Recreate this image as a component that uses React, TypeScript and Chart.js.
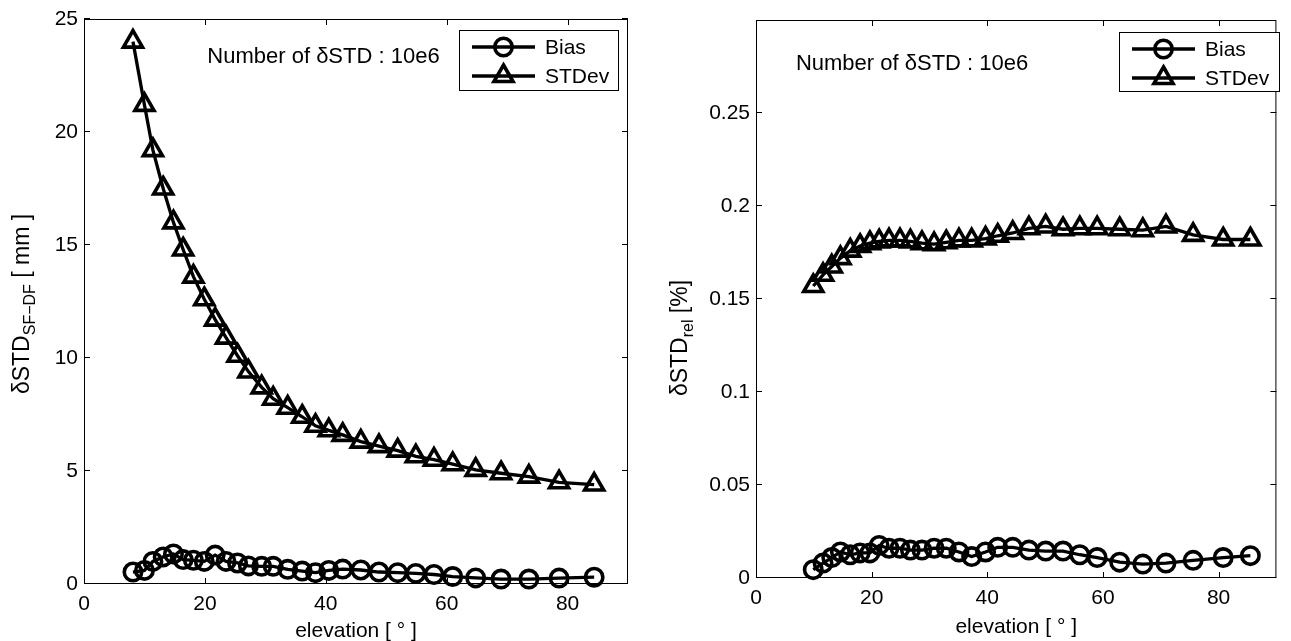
import React, { useEffect, useRef } from 'react';
import { Chart, registerables } from 'chart.js';

Chart.register(...registerables);

const FONT = '"Liberation Sans", Arial, Helvetica, sans-serif';

// ---------- shared axis ----------
const X_TICKS = [0, 20, 40, 60, 80];
const X_MIN = 0;
const X_MAX = 90;
const SERIES_NAMES = ['Bias', 'STDev'];
const NOTE_TEXT = 'Number of δSTD : 10e6';
const X_TITLE = 'elevation [ ° ]';

// ---------- left panel: δSTD_SF-DF [mm] ----------
const LEFT_ELEV = [8.1, 10.0, 11.4, 13.1, 14.8, 16.4, 18.1, 19.9, 21.7, 23.5, 25.4, 27.2, 29.4, 31.3, 33.7, 36.1, 38.3, 40.5, 42.8, 45.8, 48.8, 51.9, 54.9, 57.9, 61.0, 64.8, 69.0, 73.6, 78.6, 84.4];
const LEFT_BIAS = [0.53, 0.6, 1.0, 1.2, 1.33, 1.08, 1.05, 1.0, 1.28, 1.0, 0.93, 0.8, 0.78, 0.78, 0.65, 0.57, 0.5, 0.6, 0.66, 0.62, 0.53, 0.5, 0.47, 0.42, 0.33, 0.27, 0.22, 0.22, 0.26, 0.3];
const LEFT_STDEV = [24.0, 21.2, 19.2, 17.5, 16.0, 14.8, 13.6, 12.6, 11.7, 10.9, 10.1, 9.4, 8.7, 8.2, 7.8, 7.4, 7.0, 6.8, 6.6, 6.3, 6.1, 5.9, 5.65, 5.5, 5.3, 5.05, 4.9, 4.75, 4.5, 4.4];
const LEFT_Y_TICKS = [0, 5, 10, 15, 20, 25];
const LEFT_Y_MAX = 25;

// ---------- right panel: δSTD_rel [%] ----------
const RIGHT_ELEV = [9.9, 11.6, 13.1, 14.6, 16.3, 18.0, 19.7, 21.3, 23.0, 24.9, 26.7, 28.7, 30.8, 32.9, 35.1, 37.3, 39.7, 41.8, 44.4, 47.2, 50.1, 53.1, 56.0, 59.0, 62.9, 66.9, 70.9, 75.6, 80.8, 85.5];
const RIGHT_BIAS = [0.0045, 0.008, 0.011, 0.014, 0.0125, 0.0135, 0.0135, 0.0175, 0.016, 0.016, 0.015, 0.015, 0.016, 0.016, 0.014, 0.0115, 0.014, 0.0165, 0.0165, 0.015, 0.0145, 0.0145, 0.0125, 0.011, 0.0085, 0.0075, 0.008, 0.0095, 0.011, 0.012];
const RIGHT_STDEV = [0.157, 0.163, 0.1675, 0.172, 0.176, 0.1785, 0.18, 0.181, 0.1815, 0.1815, 0.181, 0.18, 0.1795, 0.1805, 0.1815, 0.1815, 0.1825, 0.184, 0.1855, 0.188, 0.189, 0.1875, 0.188, 0.188, 0.1875, 0.187, 0.189, 0.1845, 0.182, 0.182];
const RIGHT_Y_TICKS = [0, 0.05, 0.1, 0.15, 0.2, 0.25];
const RIGHT_Y_MAX = 0.3;

const H = 641;

type Panel = {
  left: number;
  width: number;
  area: { l: number; r: number; t: number; b: number };
  elev: number[];
  bias: number[];
  stdev: number[];
  yTicks: number[];
  yMax: number;
  yTitle: [string, string, string];
  yTitlePos: { x: number; y: number };
  xTitleBase: number;
  note: { x: number; y: number };
  legend: { x: number; y: number; w: number; h: number };
};

const PANELS: Panel[] = [
  {
    left: 0,
    width: 645,
    area: { l: 84, r: 628, t: 19, b: 584 },
    elev: LEFT_ELEV,
    bias: LEFT_BIAS,
    stdev: LEFT_STDEV,
    yTicks: LEFT_Y_TICKS,
    yMax: LEFT_Y_MAX,
    yTitle: ['δSTD', 'SF−DF', ' [ mm ]'],
    yTitlePos: { x: 21, y: 304 },
    xTitleBase: 53,
    note: { x: 20.4, y: 23.05 },
    legend: { x: 459, y: 30, w: 160, h: 61 },
  },
  {
    left: 645,
    width: 646,
    area: { l: 111, r: 645, t: 20, b: 578 },
    elev: RIGHT_ELEV,
    bias: RIGHT_BIAS,
    stdev: RIGHT_STDEV,
    yTicks: RIGHT_Y_TICKS,
    yMax: RIGHT_Y_MAX,
    yTitle: ['δSTD', 'rel', ' [%]'],
    yTitlePos: { x: 34, y: 338 },
    xTitleBase: 55,
    note: { x: 6.9, y: 0.273 },
    legend: { x: 474, y: 32, w: 161, h: 60 },
  },
];

function drawMarker(ctx: CanvasRenderingContext2D, style: string, x: number, y: number, r: number) {
  ctx.beginPath();
  if (style === 'circle') {
    ctx.arc(x, y, r, 0, Math.PI * 2);
  } else {
    let a = 0;
    ctx.moveTo(x + Math.sin(a) * r, y - Math.cos(a) * r);
    a += (2 * Math.PI) / 3;
    ctx.lineTo(x + Math.sin(a) * r, y - Math.cos(a) * r);
    a += (2 * Math.PI) / 3;
    ctx.lineTo(x + Math.sin(a) * r, y - Math.cos(a) * r);
    ctx.closePath();
  }
  ctx.stroke();
}

function framePlugin(p: Panel) {
  return {
    id: 'frame',
    beforeDatasetsDraw(chart: any) {
      const { ctx, chartArea: a, scales } = chart;
      ctx.save();
      ctx.strokeStyle = '#000';
      ctx.lineWidth = 1;
      ctx.strokeRect(a.left + 0.5, a.top + 0.5, a.right - a.left - 1, a.bottom - a.top - 1);
      const TL = 6;
      ctx.beginPath();
      X_TICKS.forEach((v) => {
        const px = Math.round(scales.x.getPixelForValue(v)) + 0.5;
        ctx.moveTo(px, a.bottom);
        ctx.lineTo(px, a.bottom - TL);
        ctx.moveTo(px, a.top);
        ctx.lineTo(px, a.top + TL);
      });
      p.yTicks.forEach((v) => {
        const py = Math.round(scales.y.getPixelForValue(v)) - 0.5;
        ctx.moveTo(a.left, py);
        ctx.lineTo(a.left + TL, py);
        ctx.moveTo(a.right, py);
        ctx.lineTo(a.right - TL, py);
      });
      ctx.stroke();
      ctx.restore();
    },
    afterDraw(chart: any) {
      const { ctx, chartArea: a, scales } = chart;
      ctx.save();
      ctx.fillStyle = '#000';
      // annotation
      ctx.font = `22px ${FONT}`;
      ctx.textAlign = 'left';
      ctx.textBaseline = 'alphabetic';
      ctx.fillText(NOTE_TEXT, scales.x.getPixelForValue(p.note.x), scales.y.getPixelForValue(p.note.y));
      // x title
      ctx.font = `21px ${FONT}`;
      ctx.textAlign = 'center';
      ctx.fillText(X_TITLE, (a.left + a.right) / 2, a.bottom + p.xTitleBase);
      // y title with subscript
      const [main, sub, rest] = p.yTitle;
      const size = 23;
      const subSize = 16;
      ctx.translate(p.yTitlePos.x, p.yTitlePos.y);
      ctx.rotate(-Math.PI / 2);
      ctx.textAlign = 'left';
      ctx.font = `${size}px ${FONT}`;
      const w1 = ctx.measureText(main).width;
      const w3 = ctx.measureText(rest).width;
      ctx.font = `${subSize}px ${FONT}`;
      const w2 = ctx.measureText(sub).width;
      let x = -(w1 + w2 + w3) / 2;
      const base = size * 0.36;
      ctx.font = `${size}px ${FONT}`;
      ctx.fillText(main, x, base);
      x += w1;
      ctx.font = `${subSize}px ${FONT}`;
      ctx.fillText(sub, x, base + 6);
      x += w2;
      ctx.font = `${size}px ${FONT}`;
      ctx.fillText(rest, x, base);
      ctx.restore();

      // legend
      const L = p.legend;
      ctx.save();
      ctx.fillStyle = '#fff';
      ctx.fillRect(L.x, L.y, L.w, L.h);
      ctx.strokeStyle = '#000';
      ctx.lineWidth = 1;
      ctx.strokeRect(L.x + 0.5, L.y + 0.5, L.w - 1, L.h - 1);
      const rows = [L.y + 17, L.y + 46];
      chart.data.datasets.forEach((ds: any, i: number) => {
        const y = rows[i];
        ctx.strokeStyle = '#000';
        ctx.lineWidth = ds.borderWidth;
        ctx.beginPath();
        ctx.moveTo(L.x + 13, y);
        ctx.lineTo(L.x + 76, y);
        ctx.stroke();
        ctx.lineWidth = ds.pointBorderWidth;
        drawMarker(ctx, ds.pointStyle, L.x + 44.5, y, ds.pointRadius);
        ctx.fillStyle = '#000';
        ctx.font = `21px ${FONT}`;
        ctx.textAlign = 'left';
        ctx.textBaseline = 'middle';
        ctx.fillText(ds.label, L.x + 86, y + 1);
      });
      ctx.restore();
    },
  };
}

function makeChart(canvas: HTMLCanvasElement, p: Panel) {
  const toXY = (xs: number[], ys: number[]) => xs.map((x, i) => ({ x, y: ys[i] }));
  const common = {
    borderColor: '#000',
    borderWidth: 3.3,
    pointBorderColor: '#000',
    pointBackgroundColor: 'rgba(0,0,0,0)',
    pointBorderWidth: 3.6,
    fill: false,
    tension: 0,
    clip: false as any,
  };
  return new Chart(canvas, {
    type: 'line',
    data: {
      datasets: [
        { ...common, label: SERIES_NAMES[0], data: toXY(p.elev, p.bias), pointStyle: 'circle', pointRadius: 8.7 },
        { ...common, label: SERIES_NAMES[1], data: toXY(p.elev, p.stdev), pointStyle: 'triangle', pointRadius: 11 },
      ],
    },
    options: {
      animation: false,
      responsive: false,
      maintainAspectRatio: false,
      events: [],
      layout: { padding: { left: 0, top: p.area.t, right: p.width - p.area.r, bottom: 0 } },
      plugins: { legend: { display: false }, tooltip: { enabled: false }, title: { display: false } },
      scales: {
        x: {
          type: 'linear',
          position: 'bottom',
          min: X_MIN,
          max: X_MAX,
          grid: { display: false, drawTicks: false },
          border: { display: false },
          ticks: {
            padding: 8,
            color: '#000',
            font: { family: FONT, size: 21 },
            maxRotation: 0,
            autoSkip: false,
            callback: (v: any) => String(v),
          },
          afterBuildTicks: (s: any) => {
            s.ticks = X_TICKS.map((v) => ({ value: v }));
          },
          afterFit: (s: any) => {
            s.height = H - p.area.b;
            s.paddingLeft = 0;
            s.paddingRight = 0;
            s.paddingTop = 0;
            s.paddingBottom = 0;
          },
        },
        y: {
          type: 'linear',
          position: 'left',
          min: 0,
          max: p.yMax,
          grid: { display: false, drawTicks: false },
          border: { display: false },
          ticks: {
            padding: 6,
            color: '#000',
            font: { family: FONT, size: 21 },
            autoSkip: false,
            callback: (v: any) => String(v),
          },
          afterBuildTicks: (s: any) => {
            s.ticks = p.yTicks.map((v) => ({ value: v }));
          },
          afterFit: (s: any) => {
            s.width = p.area.l;
            s.paddingLeft = 0;
            s.paddingRight = 0;
            s.paddingTop = 0;
            s.paddingBottom = 0;
          },
        },
      },
    } as any,
    plugins: [framePlugin(p) as any],
  });
}

function PanelChart({ p }: { p: Panel }) {
  const ref = useRef<HTMLCanvasElement | null>(null);
  useEffect(() => {
    if (!ref.current) return;
    const chart = makeChart(ref.current, p);
    return () => chart.destroy();
  }, [p]);
  return (
    <canvas
      ref={ref}
      width={p.width}
      height={H}
      style={{ position: 'absolute', left: p.left, top: 0, width: p.width, height: H, display: 'block' }}
    />
  );
}

export default function App() {
  return (
    <div style={{ position: 'absolute', left: 0, top: 0, width: 1291, height: H, background: '#fff', overflow: 'hidden' }}>
      {PANELS.map((p, i) => (
        <PanelChart key={i} p={p} />
      ))}
    </div>
  );
}
